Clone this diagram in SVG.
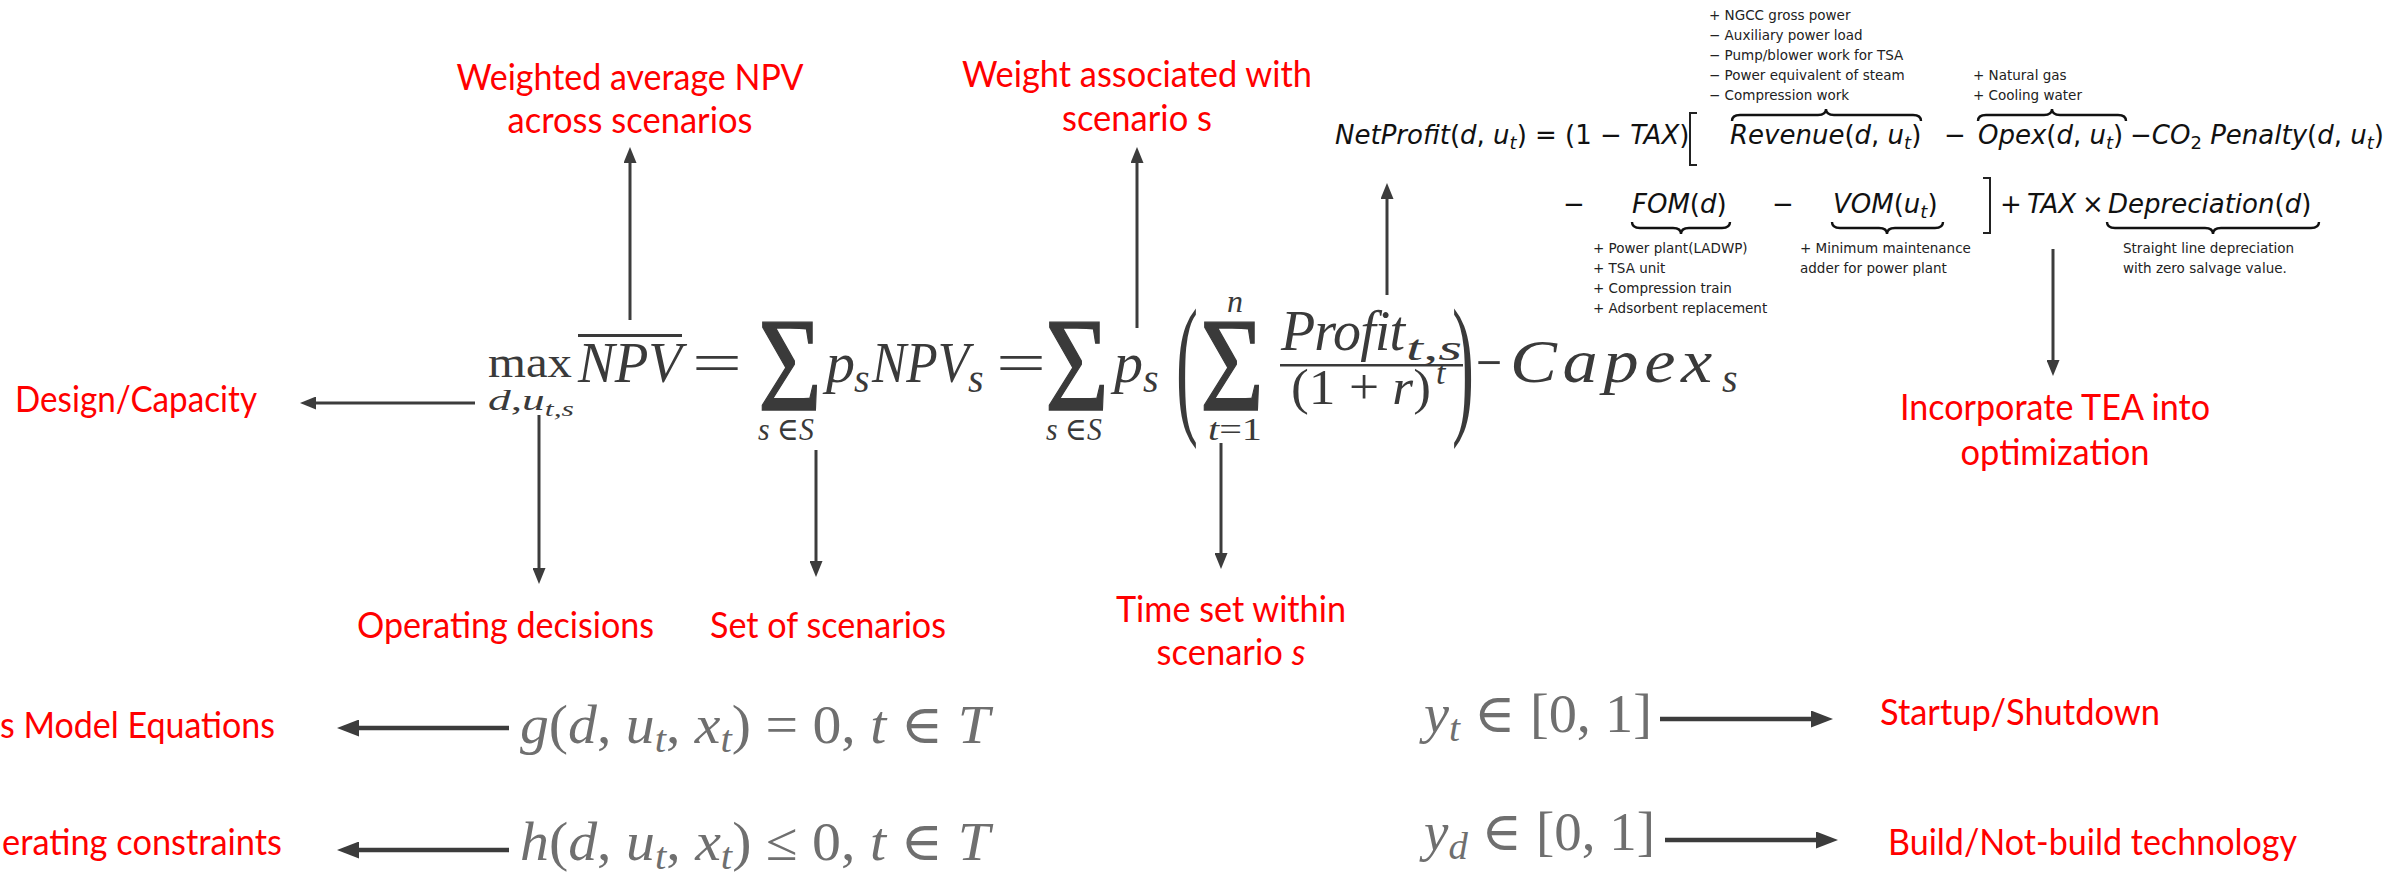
<svg xmlns="http://www.w3.org/2000/svg" width="2402" height="874" viewBox="0 0 2402 874">
<style>
.lbl{font-family:Lato,'Liberation Sans',sans-serif;font-size:36px;fill:#ff0000}
.f{font-family:'Liberation Serif','DejaVu Serif',serif;fill:#3a3a3a}
.g{font-family:'Liberation Serif','DejaVu Serif',serif;fill:#6f6f6f}
.i{font-style:italic}
.sig{stroke:#3a3a3a;stroke-width:1.4}
.m{font-family:'DejaVu Sans',sans-serif;font-size:26px;fill:#111}
.note{font-family:'DejaVu Sans',sans-serif;font-size:13.5px;fill:#222}
.c{stroke:#3c3c3c;stroke-width:3;fill:none}
.ct{stroke:#3c3c3c;stroke-width:4.5;fill:none}
.brace{stroke:#111;stroke-width:2.4;fill:none}
.brk{stroke:#222;stroke-width:2;fill:none}
</style>
<defs>
<marker id="ah" markerUnits="userSpaceOnUse" markerWidth="16" markerHeight="13" refX="8" refY="6.5" orient="auto"><path d="M0,0 L16,6.5 L0,13 Z" fill="#3c3c3c"/></marker>
<marker id="ahb" markerUnits="userSpaceOnUse" markerWidth="22" markerHeight="17" refX="11" refY="8.5" orient="auto"><path d="M0,0 L22,8.5 L0,17 Z" fill="#3c3c3c"/></marker>
</defs>

<g id="connectors">
<line class="c" x1="630" y1="320" x2="630" y2="155" marker-end="url(#ah)"/>
<line class="c" x1="1137" y1="328" x2="1137" y2="155" marker-end="url(#ah)"/>
<line class="c" x1="1387" y1="295" x2="1387" y2="191" marker-end="url(#ah)"/>
<line class="c" x1="2053" y1="249" x2="2053" y2="368" marker-end="url(#ah)"/>
<line class="c" x1="475" y1="403" x2="308" y2="403" marker-end="url(#ah)"/>
<line class="c" x1="539" y1="415" x2="539" y2="576" marker-end="url(#ah)"/>
<line class="c" x1="816" y1="450" x2="816" y2="569" marker-end="url(#ah)"/>
<line class="c" x1="1221" y1="443" x2="1221" y2="561" marker-end="url(#ah)"/>
<line class="ct" x1="509" y1="728" x2="348" y2="728" marker-end="url(#ahb)"/>
<line class="ct" x1="509" y1="850" x2="348" y2="850" marker-end="url(#ahb)"/>
<line class="ct" x1="1660" y1="719" x2="1822" y2="719" marker-end="url(#ahb)"/>
<line class="ct" x1="1665" y1="840" x2="1827" y2="840" marker-end="url(#ahb)"/>
</g>

<g id="objective" class="f">
<text x="488" y="377" font-size="44" textLength="84" lengthAdjust="spacingAndGlyphs">max</text>
<text x="488" y="410" font-size="30" textLength="86" lengthAdjust="spacingAndGlyphs"><tspan class="i">d</tspan>,<tspan class="i">u</tspan><tspan class="i" font-size="21" dy="6">t,s</tspan></text>
<rect x="578" y="334" width="104" height="3" fill="#3a3a3a"/>
<text x="578" y="382" font-size="58" class="i" textLength="104" lengthAdjust="spacingAndGlyphs">NPV</text>
<text x="692" y="382" font-size="58" textLength="50" lengthAdjust="spacingAndGlyphs">=</text>
<text class="sig" x="758" y="410" font-size="134" textLength="64" lengthAdjust="spacingAndGlyphs">Σ</text>
<text x="758" y="440" font-size="32" textLength="56" lengthAdjust="spacingAndGlyphs"><tspan class="i">s</tspan> ∈<tspan class="i">S</tspan></text>
<text x="826" y="382" font-size="58" class="i">p</text>
<text x="854" y="392" font-size="40" class="i">s</text>
<text x="872" y="382" font-size="58" class="i" textLength="97" lengthAdjust="spacingAndGlyphs">NPV</text>
<text x="968" y="392" font-size="40" class="i">s</text>
<text x="996" y="382" font-size="58" textLength="50" lengthAdjust="spacingAndGlyphs">=</text>
<text class="sig" x="1045" y="410" font-size="134" textLength="64" lengthAdjust="spacingAndGlyphs">Σ</text>
<text x="1046" y="440" font-size="32" textLength="56" lengthAdjust="spacingAndGlyphs"><tspan class="i">s</tspan> ∈<tspan class="i">S</tspan></text>
<text x="1114" y="382" font-size="58" class="i">p</text>
<text x="1143" y="392" font-size="40" class="i">s</text>
<text x="1176" y="416" font-size="155" textLength="22" lengthAdjust="spacingAndGlyphs">(</text>
<text class="sig" x="1200" y="410" font-size="134" textLength="64" lengthAdjust="spacingAndGlyphs">Σ</text>
<text x="1227" y="312" font-size="32" class="i">n</text>
<text x="1208" y="440" font-size="32" textLength="54" lengthAdjust="spacingAndGlyphs"><tspan class="i">t</tspan>=1</text>
<text x="1281" y="350" font-size="56" class="i" textLength="124" lengthAdjust="spacing">Profit</text>
<text x="1406" y="360" font-size="36" class="i" textLength="56" lengthAdjust="spacingAndGlyphs">t,s</text>
<rect x="1280" y="364" width="183" height="2.5" fill="#3a3a3a"/>
<text x="1291" y="404" font-size="50" textLength="140" lengthAdjust="spacingAndGlyphs">(1 + <tspan class="i">r</tspan>)</text>
<text x="1436" y="384" font-size="34" class="i">t</text>
<text x="1452" y="416" font-size="155" textLength="22" lengthAdjust="spacingAndGlyphs">)</text>
<text x="1476" y="382" font-size="58" textLength="26" lengthAdjust="spacingAndGlyphs">−</text>
<text x="1510" y="382" font-size="62" class="i" letter-spacing="5" textLength="208" lengthAdjust="spacingAndGlyphs">Capex</text>
<text x="1722" y="392" font-size="40" class="i">s</text>
</g>

<g id="netprofit" class="m">
<text x="1335" y="144"><tspan class="i">NetProfit</tspan>(<tspan class="i">d</tspan>, <tspan class="i">u</tspan><tspan class="i" font-size="18" dy="5">t</tspan><tspan dy="-5">) = (1 − </tspan><tspan class="i">TAX</tspan>)</text>
<path class="brk" d="M1697,113 H1690 V165 H1697"/>
<text x="1730" y="144"><tspan class="i">Revenue</tspan>(<tspan class="i">d</tspan>, <tspan class="i">u</tspan><tspan class="i" font-size="18" dy="5">t</tspan><tspan dy="-5">)</tspan></text>
<path class="brace" d="M1732,121 Q1732,115 1740,115 H1818 Q1826,115 1826,109 Q1826,115 1834,115 H1913 Q1921,115 1921,121"/>
<text x="1944" y="144">−</text>
<text x="1978" y="144"><tspan class="i">Opex</tspan>(<tspan class="i">d</tspan>, <tspan class="i">u</tspan><tspan class="i" font-size="18" dy="5">t</tspan><tspan dy="-5">)</tspan></text>
<path class="brace" d="M1978,121 Q1978,115 1986,115 H2044 Q2052,115 2052,109 Q2052,115 2060,115 H2118 Q2126,115 2126,121"/>
<text x="2130" y="144">−<tspan class="i">CO</tspan><tspan font-size="18" dy="5">2</tspan><tspan dy="-5"> </tspan><tspan class="i">Penalty</tspan>(<tspan class="i">d</tspan>, <tspan class="i">u</tspan><tspan class="i" font-size="18" dy="5">t</tspan><tspan dy="-5">)</tspan></text>
<text x="1563" y="213">−</text>
<text x="1632" y="213"><tspan class="i">FOM</tspan>(<tspan class="i">d</tspan>)</text>
<path class="brace" d="M1632,222 Q1632,228 1640,228 H1673 Q1681,228 1681,234 Q1681,228 1689,228 H1722 Q1730,228 1730,222"/>
<text x="1772" y="213">−</text>
<text x="1833" y="213"><tspan class="i">VOM</tspan>(<tspan class="i">u</tspan><tspan class="i" font-size="18" dy="5">t</tspan><tspan dy="-5">)</tspan></text>
<path class="brace" d="M1832,222 Q1832,228 1840,228 H1879 Q1887,228 1887,234 Q1887,228 1895,228 H1935 Q1943,228 1943,222"/>
<path class="brk" d="M1983,178 H1990 V233 H1983"/>
<text x="2000" y="213">+</text>
<text x="2027" y="213" class="i">TAX</text>
<text x="2082" y="213">×</text>
<text x="2108" y="213"><tspan class="i">Depreciation</tspan>(<tspan class="i">d</tspan>)</text>
<path class="brace" d="M2107,222 Q2107,228 2115,228 H2205 Q2213,228 2213,234 Q2213,228 2221,228 H2311 Q2319,228 2319,222"/>
</g>

<g id="notes" class="note">
<text x="1709" y="20">+ NGCC gross power</text>
<text x="1709" y="40">− Auxiliary power load</text>
<text x="1709" y="60">− Pump/blower work for TSA</text>
<text x="1709" y="80">− Power equivalent of steam</text>
<text x="1709" y="100">− Compression work</text>
<text x="1973" y="80">+ Natural gas</text>
<text x="1973" y="100">+ Cooling water</text>
<text x="1593" y="253">+ Power plant(LADWP)</text>
<text x="1593" y="273">+ TSA unit</text>
<text x="1593" y="293">+ Compression train</text>
<text x="1593" y="313">+ Adsorbent replacement</text>
<text x="1800" y="253">+ Minimum maintenance</text>
<text x="1800" y="273">adder for power plant</text>
<text x="2123" y="253">Straight line depreciation</text>
<text x="2123" y="273">with zero salvage value.</text>
</g>

<g id="constraints" class="g" font-size="54">
<text x="520" y="743" textLength="470" lengthAdjust="spacingAndGlyphs"><tspan class="i">g</tspan>(<tspan class="i">d</tspan>, <tspan class="i">u</tspan><tspan class="i" font-size="38" dy="9">t</tspan><tspan dy="-9">, </tspan><tspan class="i">x</tspan><tspan class="i" font-size="38" dy="9">t</tspan><tspan dy="-9">) = 0, </tspan><tspan class="i">t</tspan> ∈ <tspan class="i">T</tspan></text>
<text x="520" y="860" textLength="470" lengthAdjust="spacingAndGlyphs"><tspan class="i">h</tspan>(<tspan class="i">d</tspan>, <tspan class="i">u</tspan><tspan class="i" font-size="38" dy="9">t</tspan><tspan dy="-9">, </tspan><tspan class="i">x</tspan><tspan class="i" font-size="38" dy="9">t</tspan><tspan dy="-9">) ≤ 0, </tspan><tspan class="i">t</tspan> ∈ <tspan class="i">T</tspan></text>
<text x="1424" y="732" textLength="228" lengthAdjust="spacingAndGlyphs"><tspan class="i">y</tspan><tspan class="i" font-size="38" dy="9">t</tspan><tspan dy="-9"> ∈ [0, 1]</tspan></text>
<text x="1424" y="850" textLength="231" lengthAdjust="spacingAndGlyphs"><tspan class="i">y</tspan><tspan class="i" font-size="38" dy="9">d</tspan><tspan dy="-9"> ∈ [0, 1]</tspan></text>
</g>

<g id="label-npv" class="lbl" text-anchor="middle">
<text x="630" y="90" textLength="347" lengthAdjust="spacingAndGlyphs">Weighted average NPV</text>
<text x="630" y="133" textLength="245" lengthAdjust="spacingAndGlyphs">across scenarios</text>
</g>
<g id="label-weight" class="lbl" text-anchor="middle">
<text x="1137" y="87" textLength="350" lengthAdjust="spacingAndGlyphs">Weight associated with</text>
<text x="1137" y="131" textLength="150" lengthAdjust="spacingAndGlyphs">scenario s</text>
</g>
<g id="label-design" class="lbl">
<text x="15" y="412" textLength="242" lengthAdjust="spacingAndGlyphs">Design/Capacity</text>
</g>
<g id="label-operating" class="lbl">
<text x="357" y="638" textLength="297" lengthAdjust="spacingAndGlyphs">Operating decisions</text>
</g>
<g id="label-scenarios" class="lbl">
<text x="710" y="638" textLength="236" lengthAdjust="spacingAndGlyphs">Set of scenarios</text>
</g>
<g id="label-time" class="lbl" text-anchor="middle">
<text x="1231" y="622" textLength="230" lengthAdjust="spacingAndGlyphs">Time set within</text>
<text x="1231" y="665" textLength="149" lengthAdjust="spacingAndGlyphs">scenario <tspan class="i">s</tspan></text>
</g>
<g id="label-tea" class="lbl" text-anchor="middle" font-size="34">
<text x="2055" y="420" textLength="310" lengthAdjust="spacingAndGlyphs">Incorporate TEA into</text>
<text x="2055" y="465" textLength="189" lengthAdjust="spacingAndGlyphs">optimization</text>
</g>
<g id="label-model" class="lbl">
<text x="0" y="738" textLength="275" lengthAdjust="spacingAndGlyphs">s Model Equations</text>
</g>
<g id="label-opcons" class="lbl">
<text x="2" y="855" textLength="280" lengthAdjust="spacingAndGlyphs">erating constraints</text>
</g>
<g id="label-startup" class="lbl">
<text x="1880" y="725" textLength="280" lengthAdjust="spacingAndGlyphs">Startup/Shutdown</text>
</g>
<g id="label-build" class="lbl">
<text x="1888" y="855" textLength="409" lengthAdjust="spacingAndGlyphs">Build/Not-build technology</text>
</g>
</svg>
